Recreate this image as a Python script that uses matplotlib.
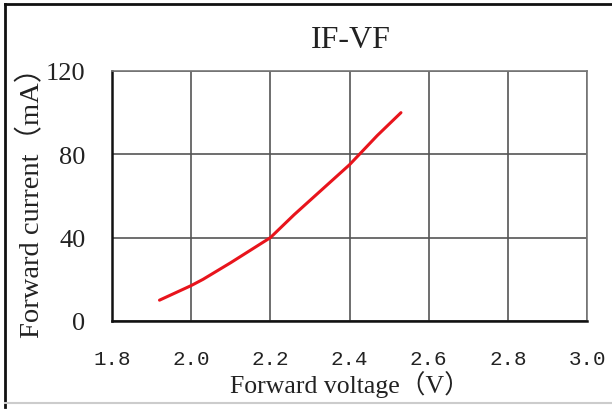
import matplotlib
matplotlib.use("Agg")
import matplotlib.pyplot as plt
from matplotlib.lines import Line2D
from matplotlib.transforms import ScaledTranslation

voltage = [1.92, 2.00, 2.03, 2.10, 2.20, 2.26, 2.33, 2.40, 2.47, 2.53]
current = [10, 17, 20, 28, 40, 51, 63, 75, 89, 100]
x_ticks = [1.8, 2.0, 2.2, 2.4, 2.6, 2.8, 3.0]
x_tick_labels = ["1.8", "2.0", "2.2", "2.4", "2.6", "2.8", "3.0"]
y_ticks = [0, 40, 80, 120]

serif = ["Liberation Serif", "Noto Sans CJK SC", "DejaVu Serif"]

fig = plt.figure(figsize=(6.12, 4.10), dpi=100)
ax = fig.add_axes([112/612, 1-322/410, 475/612, 250/410])
ax.plot(voltage, current, color="#e8141c", lw=2.2, solid_capstyle="round", solid_joinstyle="round")
ax.set_xlim(1.8, 3.0)
ax.set_ylim(0, 120)
ax.set_xticks(x_ticks)
ax.set_xticklabels(x_tick_labels, family="Liberation Mono", fontsize=15, color="#222222")
shift = ScaledTranslation(-5/100, 0, fig.dpi_scale_trans)
for lbl in ax.get_xticklabels():
    lbl.set_transform(lbl.get_transform() + shift)
ax.set_yticks(y_ticks)
ax.set_yticklabels([str(v) for v in y_ticks], family=serif, fontsize=19, color="#222222")
ax.tick_params(axis="both", length=0)
ax.tick_params(axis="x", pad=20)
ax.tick_params(axis="y", pad=19)
ax.grid(True, color="#555555", lw=1.2)
for s in ["top", "right"]:
    ax.spines[s].set_color("#777777")
    ax.spines[s].set_linewidth(1.2)
for s in ["left", "bottom"]:
    ax.spines[s].set_color("#111111")
    ax.spines[s].set_linewidth(1.8)

fig.text(351/612, 1-41/410, "IF-VF", family=serif, fontsize=23, ha="center", va="center", color="#222222")
fig.text(32/612, 1-196/410, "Forward current（mA）", family=serif, fontsize=20.5, rotation=90,
         ha="center", va="center", color="#222222")
fig.text(350/612, 1-385/410, "Forward voltage（V）", family=serif, fontsize=18.5, ha="center", va="center",
         color="#222222")

# outer frame
fig.add_artist(Line2D([5/612, 5/612], [2/410, 1-5/410], transform=fig.transFigure, color="#111111", lw=2))
fig.add_artist(Line2D([5/612, 1], [1-5/410, 1-5/410], transform=fig.transFigure, color="#111111", lw=2))
fig.add_artist(Line2D([5/612, 1], [6/410, 6/410], transform=fig.transFigure, color="#cccccc", lw=1.5))

fig.savefig("out.png", dpi=100)
